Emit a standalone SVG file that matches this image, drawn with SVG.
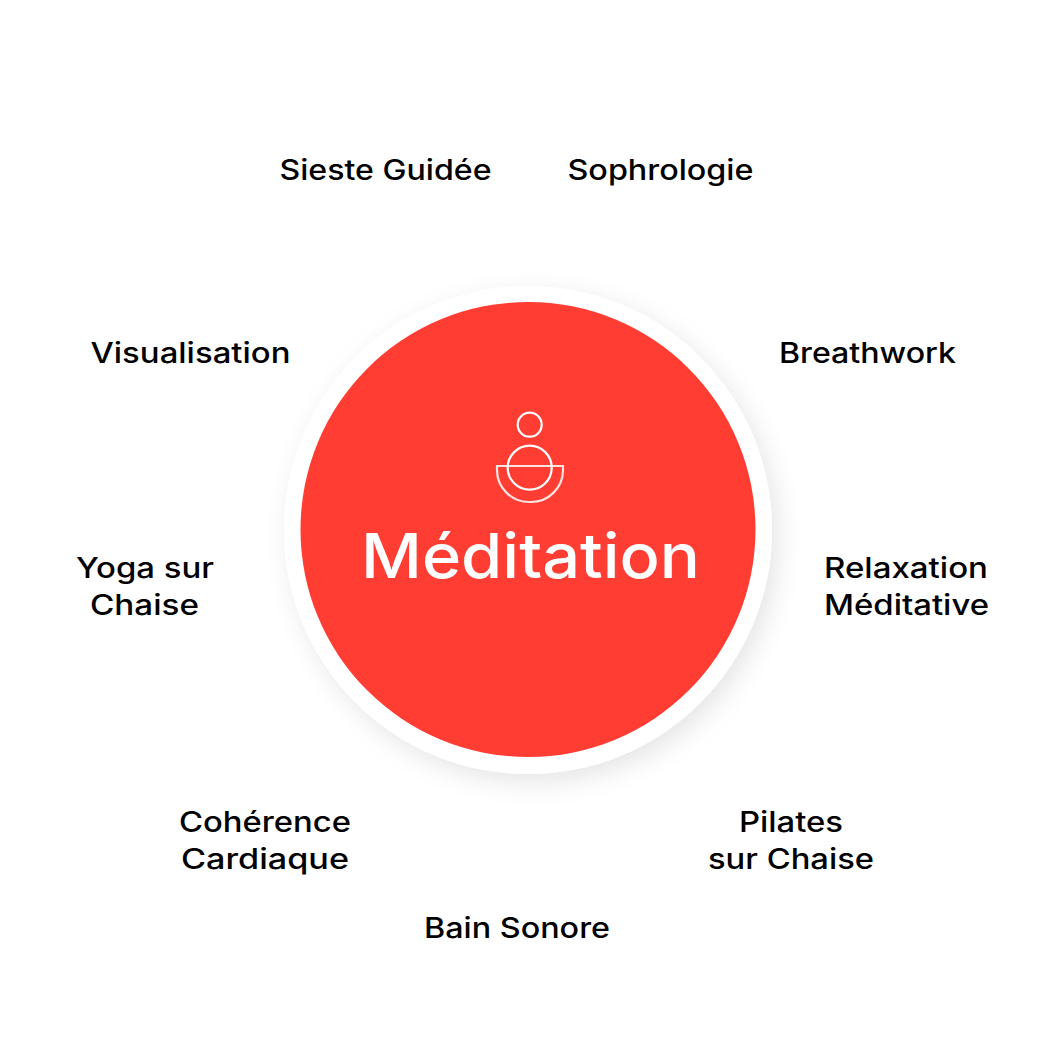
<svg xmlns="http://www.w3.org/2000/svg" width="1056" height="1056" viewBox="0 0 1056 1056">
<style>
.l{font-family:"Inter","Noto Sans","Liberation Sans",sans-serif;font-size:28px;font-weight:500;fill:#000}
.i{fill:none;stroke:#fff;stroke-width:2.200}
</style>
<defs><filter id="s" x="-20%" y="-20%" width="140%" height="140%"><feDropShadow dx="6" dy="8" stdDeviation="12" flood-color="#000" flood-opacity="0.1"/></filter></defs>
<rect width="1056" height="1056" fill="#fff"/>
<g id="center">
<circle cx="528" cy="530" r="244" fill="#fff" filter="url(#s)"/>
<circle cx="528" cy="529.500" r="227.500" fill="#ff3d33"/>
<g id="icon">
<circle class="i" cx="529.700" cy="424.700" r="12"/>
<circle class="i" cx="529.700" cy="467.700" r="22"/>
<path class="i" d="M497 466H563V470A32 32 0 0 1 531 502H529A32 32 0 0 1 497 470Z" stroke-opacity="0.85"/>
</g>
<text x="530.500" y="578" text-anchor="middle" textLength="339" lengthAdjust="spacingAndGlyphs" font-family="Inter,'Noto Sans',sans-serif" font-size="62" font-weight="500" fill="#fff">Méditation</text>
</g>
<g id="n1"><text class="l" x="279.500" y="180" textLength="212" lengthAdjust="spacingAndGlyphs">Sieste Guidée</text></g>
<g id="n2"><text class="l" x="567.500" y="180" textLength="186" lengthAdjust="spacingAndGlyphs">Sophrologie</text></g>
<g id="n3"><text class="l" x="779" y="363" textLength="177" lengthAdjust="spacingAndGlyphs">Breathwork</text></g>
<g id="n4"><text class="l" x="824" y="578" textLength="164" lengthAdjust="spacingAndGlyphs">Relaxation</text><text class="l" x="824" y="615" textLength="165" lengthAdjust="spacingAndGlyphs">Méditative</text></g>
<g id="n5"><text class="l" x="739" y="832" textLength="104" lengthAdjust="spacingAndGlyphs">Pilates</text><text class="l" x="708" y="869" textLength="166" lengthAdjust="spacingAndGlyphs">sur Chaise</text></g>
<g id="n6"><text class="l" x="424" y="938" textLength="186" lengthAdjust="spacingAndGlyphs">Bain Sonore</text></g>
<g id="n7"><text class="l" x="179" y="832" textLength="172" lengthAdjust="spacingAndGlyphs">Cohérence</text><text class="l" x="181" y="869" textLength="168" lengthAdjust="spacingAndGlyphs">Cardiaque</text></g>
<g id="n8"><text class="l" x="76" y="578" textLength="138" lengthAdjust="spacingAndGlyphs">Yoga sur</text><text class="l" x="90" y="615" textLength="109" lengthAdjust="spacingAndGlyphs">Chaise</text></g>
<g id="n9"><text class="l" x="90.500" y="363" textLength="200" lengthAdjust="spacingAndGlyphs">Visualisation</text></g>
<g id="connectors"/>
</svg>
